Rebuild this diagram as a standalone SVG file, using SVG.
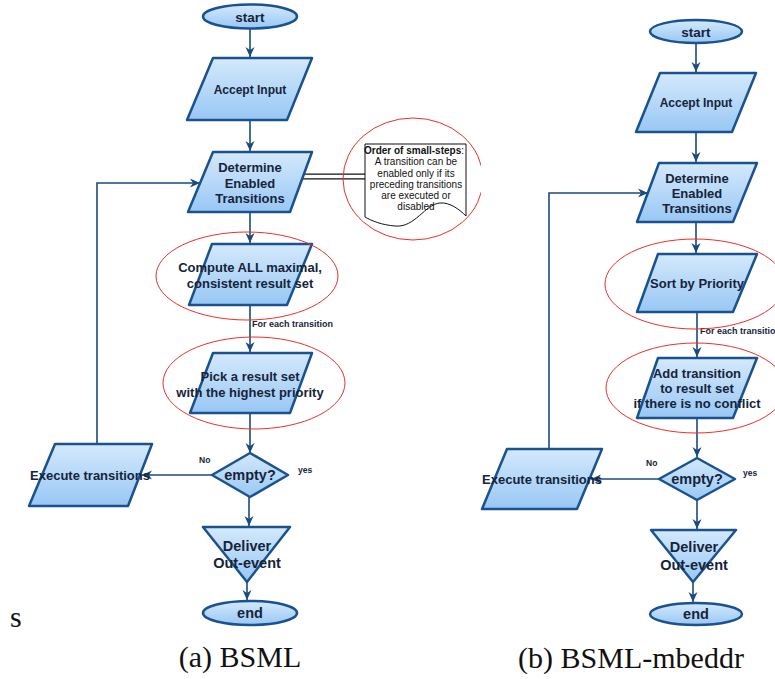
<svg xmlns="http://www.w3.org/2000/svg" width="775" height="679" viewBox="0 0 775 679">
  <defs>
    <linearGradient id="nodeFill" x1="0" y1="0" x2="0" y2="1">
      <stop offset="0" stop-color="#d4e9fc"/>
      <stop offset="1" stop-color="#98c7f4"/>
    </linearGradient>
    <marker id="arrow" markerUnits="userSpaceOnUse" markerWidth="12" markerHeight="12" viewBox="0 0 12 12" refX="11" refY="6" orient="auto">
      <path d="M1,1.5 L11,6 L1,10.5 L4,6 z" fill="#1b4a7e"/>
    </marker>
    <clipPath id="clipA">
      <rect x="0" y="0" width="481" height="679"/>
    </clipPath>
  </defs>
  <style>
    .node { fill: url(#nodeFill); stroke: #1a5290; stroke-width: 2.5; stroke-linejoin: round; }
    .lbl { font-family: "Liberation Sans", Arial, sans-serif; font-weight: bold; font-size: 13px; fill: #15243a; text-anchor: middle; }
    .big { font-size: 14.5px; }
    .small { font-family: "Liberation Sans", Arial, sans-serif; font-weight: bold; font-size: 9px; fill: #15243a; }
    .tiny { font-family: "Liberation Sans", Arial, sans-serif; font-weight: bold; font-size: 8.5px; fill: #15243a; }
    .conn { fill: none; stroke: #1b4a7e; stroke-width: 1.6; }
    .ring { fill: none; stroke: #e8312b; stroke-width: 1; }
    .note { font-family: "Liberation Sans", Arial, sans-serif; font-size: 10px; fill: #111; text-anchor: middle; }
    .caption { font-family: "Liberation Serif", "Times New Roman", serif; font-size: 30px; fill: #111; }
  </style>

  <!-- connectors -->
  <g id="connectors">
    <!-- (a) -->
    <path class="conn" d="M250,29 V57" marker-end="url(#arrow)"/>
    <path class="conn" d="M250,120 V151" marker-end="url(#arrow)"/>
    <path class="conn" d="M250,212 V243" marker-end="url(#arrow)"/>
    <path class="conn" d="M250,305 V352" marker-end="url(#arrow)"/>
    <path class="conn" d="M250,413 V453" marker-end="url(#arrow)"/>
    <path class="conn" d="M212,475 H142" marker-end="url(#arrow)"/>
    <path class="conn" d="M97,444 V183 H200" marker-end="url(#arrow)"/>
    <path class="conn" d="M249,497 V526" marker-end="url(#arrow)"/>
    <path class="conn" d="M247,582 V600" marker-end="url(#arrow)"/>
    <!-- double link to the note -->
    <path d="M302,176.5 H365" stroke="#111" stroke-width="6" fill="none"/>
    <path d="M302,176.5 H365" stroke="#fff" stroke-width="3.6" fill="none"/>
    <!-- (b) -->
    <path class="conn" d="M696,43 V72" marker-end="url(#arrow)"/>
    <path class="conn" d="M696,132 V162" marker-end="url(#arrow)"/>
    <path class="conn" d="M696,222 V253" marker-end="url(#arrow)"/>
    <path class="conn" d="M697,312 V357" marker-end="url(#arrow)"/>
    <path class="conn" d="M697,418 V457" marker-end="url(#arrow)"/>
    <path class="conn" d="M659,479 H591" marker-end="url(#arrow)"/>
    <path class="conn" d="M549,449 V193 H648" marker-end="url(#arrow)"/>
    <path class="conn" d="M697,500 V529" marker-end="url(#arrow)"/>
    <path class="conn" d="M693,582 V602" marker-end="url(#arrow)"/>
  </g>

  <!-- (a) BSML -->
  <g id="a-start">
    <ellipse class="node" cx="250" cy="16.5" rx="47" ry="12"/>
    <text class="lbl" x="250" y="21.5" style="font-size:13.5px">start</text>
  </g>
  <g id="a-accept">
    <path class="node" d="M213,58 H312 L287,120 H187 Z"/>
    <text class="lbl" x="250" y="94" style="font-size:12px">Accept Input</text>
  </g>
  <g id="a-determine">
    <path class="node" d="M213,152 H312 L290,212 H188 Z"/>
    <text class="lbl" x="250" y="172">Determine</text>
    <text class="lbl" x="250" y="187.5">Enabled</text>
    <text class="lbl" x="250" y="203">Transitions</text>
  </g>
  <g id="a-note">
    <path d="M365,144 H466 V216 C460,210 450,202 440,203 C425,204 415,228 395,226 C382,225 372,221 365,217 Z" fill="#fff" stroke="#111" stroke-width="1"/>
    <text class="note" x="414" y="154"><tspan font-weight="bold">Order of small-steps</tspan>:</text>
    <text class="note" x="416" y="165">A transition can be</text>
    <text class="note" x="416" y="176.5">enabled only if its</text>
    <text class="note" x="416" y="188">preceding transitions</text>
    <text class="note" x="416" y="199">are executed or</text>
    <text class="note" x="416" y="210">disabled</text>
  </g>
  <g id="a-compute">
    <path class="node" d="M212,244 H312 L287,305 H189 Z"/>
    <text class="lbl" x="250" y="271.5">Compute ALL maximal,</text>
    <text class="lbl" x="250" y="287.5">consistent result set</text>
  </g>
  <g id="a-pick">
    <path class="node" d="M213,353 H312 L290,413 H190 Z"/>
    <text class="lbl" x="250" y="380.5">Pick a result set</text>
    <text class="lbl" x="250" y="396.5">with the highest priority</text>
  </g>
  <g id="a-empty">
    <path class="node" d="M250,453 L288,475 L250,497 L212,475 Z"/>
    <text class="lbl big" x="250" y="480">empty?</text>
  </g>
  <g id="a-execute">
    <path class="node" d="M55,444 H152 L128,506 H29 Z"/>
    <text class="lbl" x="90" y="479.5">Execute transitions</text>
  </g>
  <g id="a-deliver">
    <path class="node" d="M203,527 H290 L247,582 Z"/>
    <text class="lbl big" x="247" y="551">Deliver</text>
    <text class="lbl big" x="247" y="568">Out-event</text>
  </g>
  <g id="a-end">
    <ellipse class="node" cx="250" cy="613" rx="47" ry="12"/>
    <text class="lbl big" x="250" y="618">end</text>
  </g>
  <text class="small" x="252" y="327">For each transition</text>
  <text class="tiny" x="199" y="463">No</text>
  <text class="tiny" x="298" y="473">yes</text>

  <!-- highlight rings (a) -->
  <g id="a-rings">
    <ellipse class="ring" cx="247" cy="276" rx="91" ry="44"/>
    <ellipse class="ring" cx="254" cy="383" rx="91" ry="46"/>
    <ellipse class="ring" cx="413" cy="179" rx="70" ry="61" clip-path="url(#clipA)"/>
  </g>

  <!-- (b) BSML-mbeddr -->
  <g id="b-start">
    <ellipse class="node" cx="696" cy="31.5" rx="46" ry="11.5"/>
    <text class="lbl" x="696" y="36.5" style="font-size:13.5px">start</text>
  </g>
  <g id="b-accept">
    <path class="node" d="M660,73 H756 L732,132 H636 Z"/>
    <text class="lbl" x="696" y="107" style="font-size:12px">Accept Input</text>
  </g>
  <g id="b-determine">
    <path class="node" d="M659,163 H757 L733,222 H637 Z"/>
    <text class="lbl" x="697" y="182.5">Determine</text>
    <text class="lbl" x="697" y="197.5">Enabled</text>
    <text class="lbl" x="697" y="212.5">Transitions</text>
  </g>
  <g id="b-sort">
    <path class="node" d="M658,254 H757 L733,312 H637 Z"/>
    <text class="lbl" x="697" y="287.5">Sort by Priority</text>
  </g>
  <g id="b-add">
    <path class="node" d="M658,358 H757 L733,418 H637 Z"/>
    <text class="lbl" x="697" y="377.5">Add transition</text>
    <text class="lbl" x="697" y="392.5">to result set</text>
    <text class="lbl" x="697" y="407.5">if there is no conflict</text>
  </g>
  <g id="b-empty">
    <path class="node" d="M697,458 L735,479 L697,500 L659,479 Z"/>
    <text class="lbl big" x="697" y="484">empty?</text>
  </g>
  <g id="b-execute">
    <path class="node" d="M507,449 H602 L577,509 H482 Z"/>
    <text class="lbl" x="542" y="483.5">Execute transitions</text>
  </g>
  <g id="b-deliver">
    <path class="node" d="M651,530 H736 L693,582 Z"/>
    <text class="lbl big" x="694" y="552">Deliver</text>
    <text class="lbl big" x="694" y="569.5">Out-event</text>
  </g>
  <g id="b-end">
    <ellipse class="node" cx="696" cy="614" rx="46" ry="11"/>
    <text class="lbl big" x="696" y="619">end</text>
  </g>
  <text class="small" x="700" y="334">For each transitio</text>
  <text class="tiny" x="646" y="466">No</text>
  <text class="tiny" x="743" y="476">yes</text>

  <!-- highlight rings (b) -->
  <g id="b-rings">
    <ellipse class="ring" cx="695" cy="284" rx="90" ry="45"/>
    <ellipse class="ring" cx="696" cy="388" rx="90" ry="45"/>
  </g>

  <!-- captions -->
  <text class="caption" x="10" y="627">s</text>
  <text class="caption" x="240" y="667" text-anchor="middle">(a) BSML</text>
  <text class="caption" x="631" y="668" text-anchor="middle">(b) BSML-mbeddr</text>
</svg>
